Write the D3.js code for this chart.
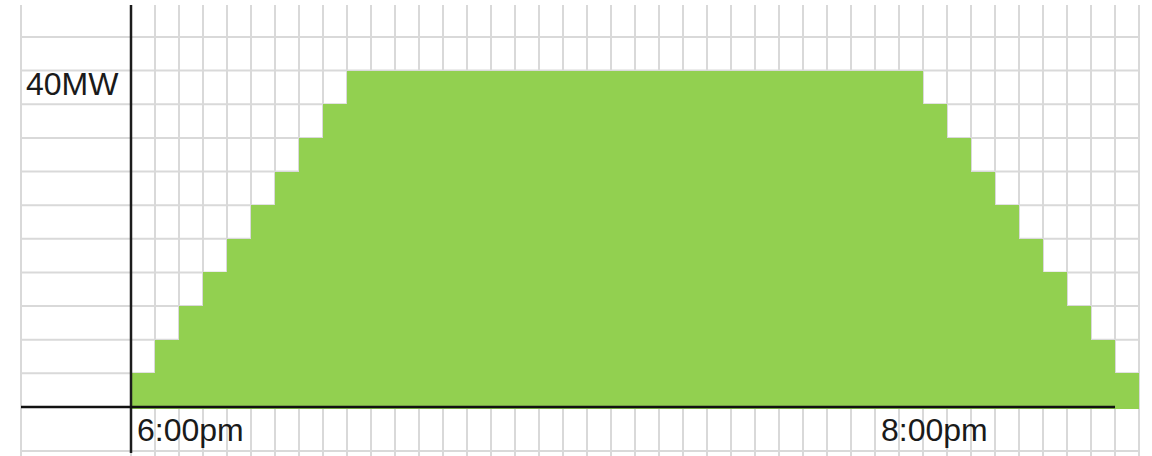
<!DOCTYPE html>
<html>
<head>
<meta charset="utf-8">
<script src="https://cdn.jsdelivr.net/npm/d3@7"></script>
<style>
  html, body { margin: 0; padding: 0; background: #ffffff; }
  svg { display: block; }
  text { font-family: "Liberation Sans", Arial, sans-serif; }
</style>
</head>
<body>
<svg id="chart" width="1152" height="456"></svg>
<script>
// ---- data ----
// one value (MW) per time slot, read off the stepped shape
const slots = d3.range(42);
const powerMW = [
  4, 8, 12, 16, 20, 24, 28, 32, 36,
  40, 40, 40, 40, 40, 40, 40, 40, 40, 40, 40, 40,
  40, 40, 40, 40, 40, 40, 40, 40, 40, 40, 40, 40,
  36, 32, 28, 24, 20, 16, 12, 8, 4
];
const yTickValues = [40];
const yTickLabels = ["40MW"];
const xTickSlots = [0, 31];
const xTickLabels = ["6:00pm", "8:00pm"];
const gridStepMW = 4;
const gridMaxMW = 44;

// ---- layout ----
const svg = d3.select("#chart");
const gridLeft = 21, gridTop = 5, bottomRowLine = 451, svgH = 456;

const x = d3.scaleLinear().domain([0, slots.length]).range([131, 1139]);
const y = d3.scaleLinear().domain([0, 40]).range([407, 70.6]);

const gridColor = "#d9d9d9";

// horizontal grid lines (spreadsheet rows)
const hLines = d3.range(gridStepMW, gridMaxMW + 1, gridStepMW).map(v => y(v));
hLines.push(bottomRowLine);
svg.append("g").selectAll("line").data(hLines).join("line")
  .attr("x1", gridLeft).attr("x2", x(slots.length))
  .attr("y1", d => d).attr("y2", d => d)
  .attr("stroke", gridColor).attr("stroke-width", 2);

// vertical grid lines (spreadsheet columns)
const vLines = [gridLeft].concat(d3.range(0, slots.length + 1).map(i => x(i)));
svg.append("g").selectAll("line").data(vLines).join("line")
  .attr("x1", d => d).attr("x2", d => d)
  .attr("y1", gridTop).attr("y2", svgH)
  .attr("stroke", gridColor).attr("stroke-width", 2);

// stepped green block
svg.append("g").selectAll("rect").data(powerMW).join("rect")
  .attr("x", (d, i) => x(i))
  .attr("width", (d, i) => x(i + 1) - x(i))
  .attr("y", d => y(d))
  .attr("height", d => y(0) - y(d) + 1.5)
  .attr("fill", "#92d050")
  .attr("shape-rendering", "crispEdges");

// axes
svg.append("line")
  .attr("x1", x(0)).attr("x2", x(0))
  .attr("y1", gridTop).attr("y2", bottomRowLine + 2)
  .attr("stroke", "#1c1c1c").attr("stroke-width", 2.5);
svg.append("line")
  .attr("x1", gridLeft).attr("x2", x(slots.length - 1))
  .attr("y1", y(0)).attr("y2", y(0))
  .attr("stroke", "#111111").attr("stroke-width", 2.5);

// y label
svg.append("g").selectAll("text").data(yTickValues).join("text")
  .attr("x", 26)
  .attr("y", d => y(d) + 24.5)
  .attr("font-size", 32)
  .attr("fill", "#1a1a1a")
  .text((d, i) => yTickLabels[i]);

// x labels
svg.append("g").selectAll("text").data(xTickSlots).join("text")
  .attr("x", d => x(d) + 6)
  .attr("y", 441)
  .attr("font-size", 32)
  .attr("fill", "#1a1a1a")
  .text((d, i) => xTickLabels[i]);
</script>
</body>
</html>
